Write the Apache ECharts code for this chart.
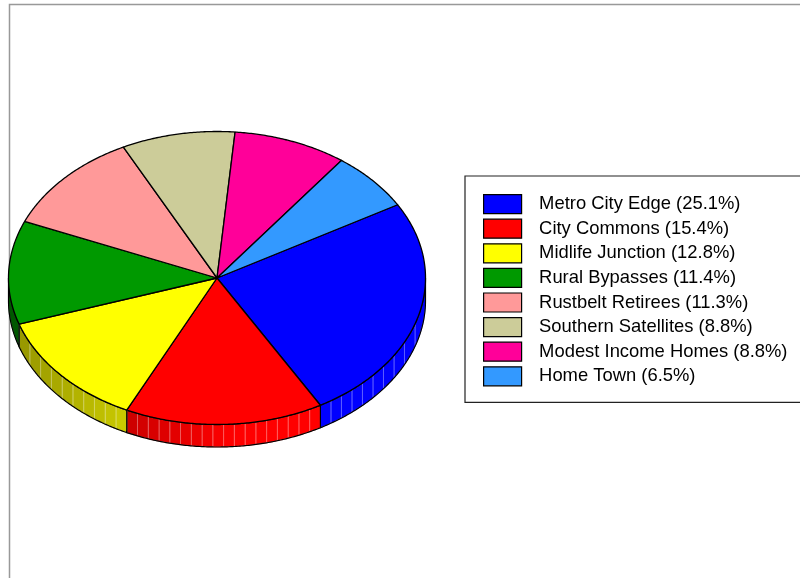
<!DOCTYPE html>
<html>
<head>
<meta charset="utf-8">
<script src="https://cdn.jsdelivr.net/npm/echarts@6/dist/echarts.min.js"></script>
<style>
html,body{margin:0;padding:0;background:#fff;}
#chart{width:800px;height:578px;}
</style>
</head>
<body>
<div id="chart"></div>
<script>
// ---- data ----
const categories = ['Metro City Edge','City Commons','Midlife Junction','Rural Bypasses','Rustbelt Retirees','Southern Satellites','Modest Income Homes','Home Town'];
const values = [25.1, 15.4, 12.8, 11.4, 11.3, 8.8, 8.8, 6.5];
const colors = ['#0000FF','#FF0000','#FFFF00','#009900','#FF9999','#CCCC99','#FF0099','#3399FF'];
const startAngle = 30; // degrees, slices run clockwise

// ---- geometry (layout) ----
const CX = 217, CY = 278, RX = 208.5, RY = 146.5, DEPTH = 22.5;

const total = values.reduce((a, b) => a + b, 0);
const sliceAngles = [];
let acc = startAngle;
values.forEach(v => {
  const span = v / total * 360;
  sliceAngles.push([acc, acc - span]);
  acc -= span;
});

function P(deg, dy) {
  const r = deg * Math.PI / 180;
  return [CX + RX * Math.cos(r), CY - RY * Math.sin(r) + (dy || 0)];
}
function hexToRgb(h) {
  h = h.replace('#', '');
  return [parseInt(h.substr(0,2),16), parseInt(h.substr(2,2),16), parseInt(h.substr(4,2),16)];
}
function rgbStr(c) { return 'rgb(' + c.map(v => Math.round(Math.max(0, Math.min(255, v)))).join(',') + ')'; }
function shade(hex, f) { return hexToRgb(hex).map(v => v * f); }
function lighten(c, t) { return c.map(v => v + (255 - v) * t); }
function xToAngle(x) {
  const c = Math.max(-1, Math.min(1, (x - CX) / RX));
  return -Math.acos(c) * 180 / Math.PI;
}

function renderSlice(params, api) {
  const a0 = api.value(0), a1 = api.value(1);
  const base = colors[params.seriesIndex];
  const children = [];
  const lo = Math.max(a1, -180), hi = Math.min(a0, 0);
  if (lo < hi) {
    const xHi = P(hi)[0], xLo = P(lo)[0];
    const n = Math.max(1, Math.round((xHi - xLo) / 10.5));
    let prev = hi;
    for (let k = 1; k <= n; k++) {
      const t0 = prev;
      const t1 = k === n ? lo : xToAngle(xHi - (xHi - xLo) * k / n);
      prev = t1;
      const tm = (t0 + t1) / 2;
      const f = Math.min(1, 0.97 + 0.4 * Math.cos(tm * Math.PI / 180));
      const c = shade(base, f);
      const pts = [];
      const steps = Math.max(2, Math.ceil((t0 - t1) / 0.5));
      for (let s = 0; s <= steps; s++) pts.push(P(t0 - (t0 - t1) * s / steps));
      for (let s = steps; s >= 0; s--) pts.push(P(t0 - (t0 - t1) * s / steps, DEPTH));
      children.push({
        type: 'polygon',
        shape: { points: pts },
        style: { fill: rgbStr(c), stroke: rgbStr(lighten(c, 0.4)), lineWidth: 0.8 }
      });
    }
    const outline = [];
    const m = Math.max(2, Math.ceil((hi - lo) / 0.5));
    for (let k = 0; k <= m; k++) outline.push(P(hi - (hi - lo) * k / m));
    for (let k = m; k >= 0; k--) outline.push(P(hi - (hi - lo) * k / m, DEPTH));
    children.push({
      type: 'polygon',
      shape: { points: outline },
      style: { fill: 'none', stroke: '#000', lineWidth: 1.2 }
    });
  }
  const pts = [[CX, CY]];
  const m2 = Math.max(2, Math.ceil((a0 - a1) / 0.5));
  for (let k = 0; k <= m2; k++) pts.push(P(a0 - (a0 - a1) * k / m2));
  children.push({
    type: 'polygon',
    shape: { points: pts },
    style: { fill: base, stroke: '#000', lineWidth: 1.3, lineJoin: 'round' }
  });
  return { type: 'group', children: children };
}

const chart = echarts.init(document.getElementById('chart'), null, { renderer: 'canvas' });

const series = categories.map((name, i) => ({
  type: 'custom',
  name: name,
  coordinateSystem: 'none',
  silent: true,
  itemStyle: { color: colors[i], borderColor: '#000', borderWidth: 1 },
  data: [sliceAngles[i]],
  renderItem: renderSlice
}));

chart.setOption({
  animation: false,
  backgroundColor: '#fff',
  graphic: [{
    type: 'rect',
    z: 0,
    shape: { x: 9.5, y: 4.5, width: 1000, height: 1000 },
    style: { fill: 'none', stroke: '#999', lineWidth: 1.5 }
  }],
  legend: {
    orient: 'vertical',
    left: 465,
    top: 176,
    padding: [18, 40, 16, 18],
    borderColor: '#222',
    borderWidth: 1.2,
    backgroundColor: '#fff',
    itemWidth: 38,
    itemHeight: 19,
    itemGap: 4.4,
    icon: 'rect',
    selectedMode: false,
    itemStyle: { borderColor: '#000', borderWidth: 1.2 },
    data: categories,
    formatter: name => name + ' (' + values[categories.indexOf(name)].toFixed(1) + '%)',
    textStyle: {
      fontFamily: 'Liberation Sans, Arial, sans-serif',
      fontSize: 18.4,
      lineHeight: 19,
      color: '#000',
      padding: [0, 0, 0, 12.5]
    }
  },
  series: series
});
</script>
</body>
</html>
